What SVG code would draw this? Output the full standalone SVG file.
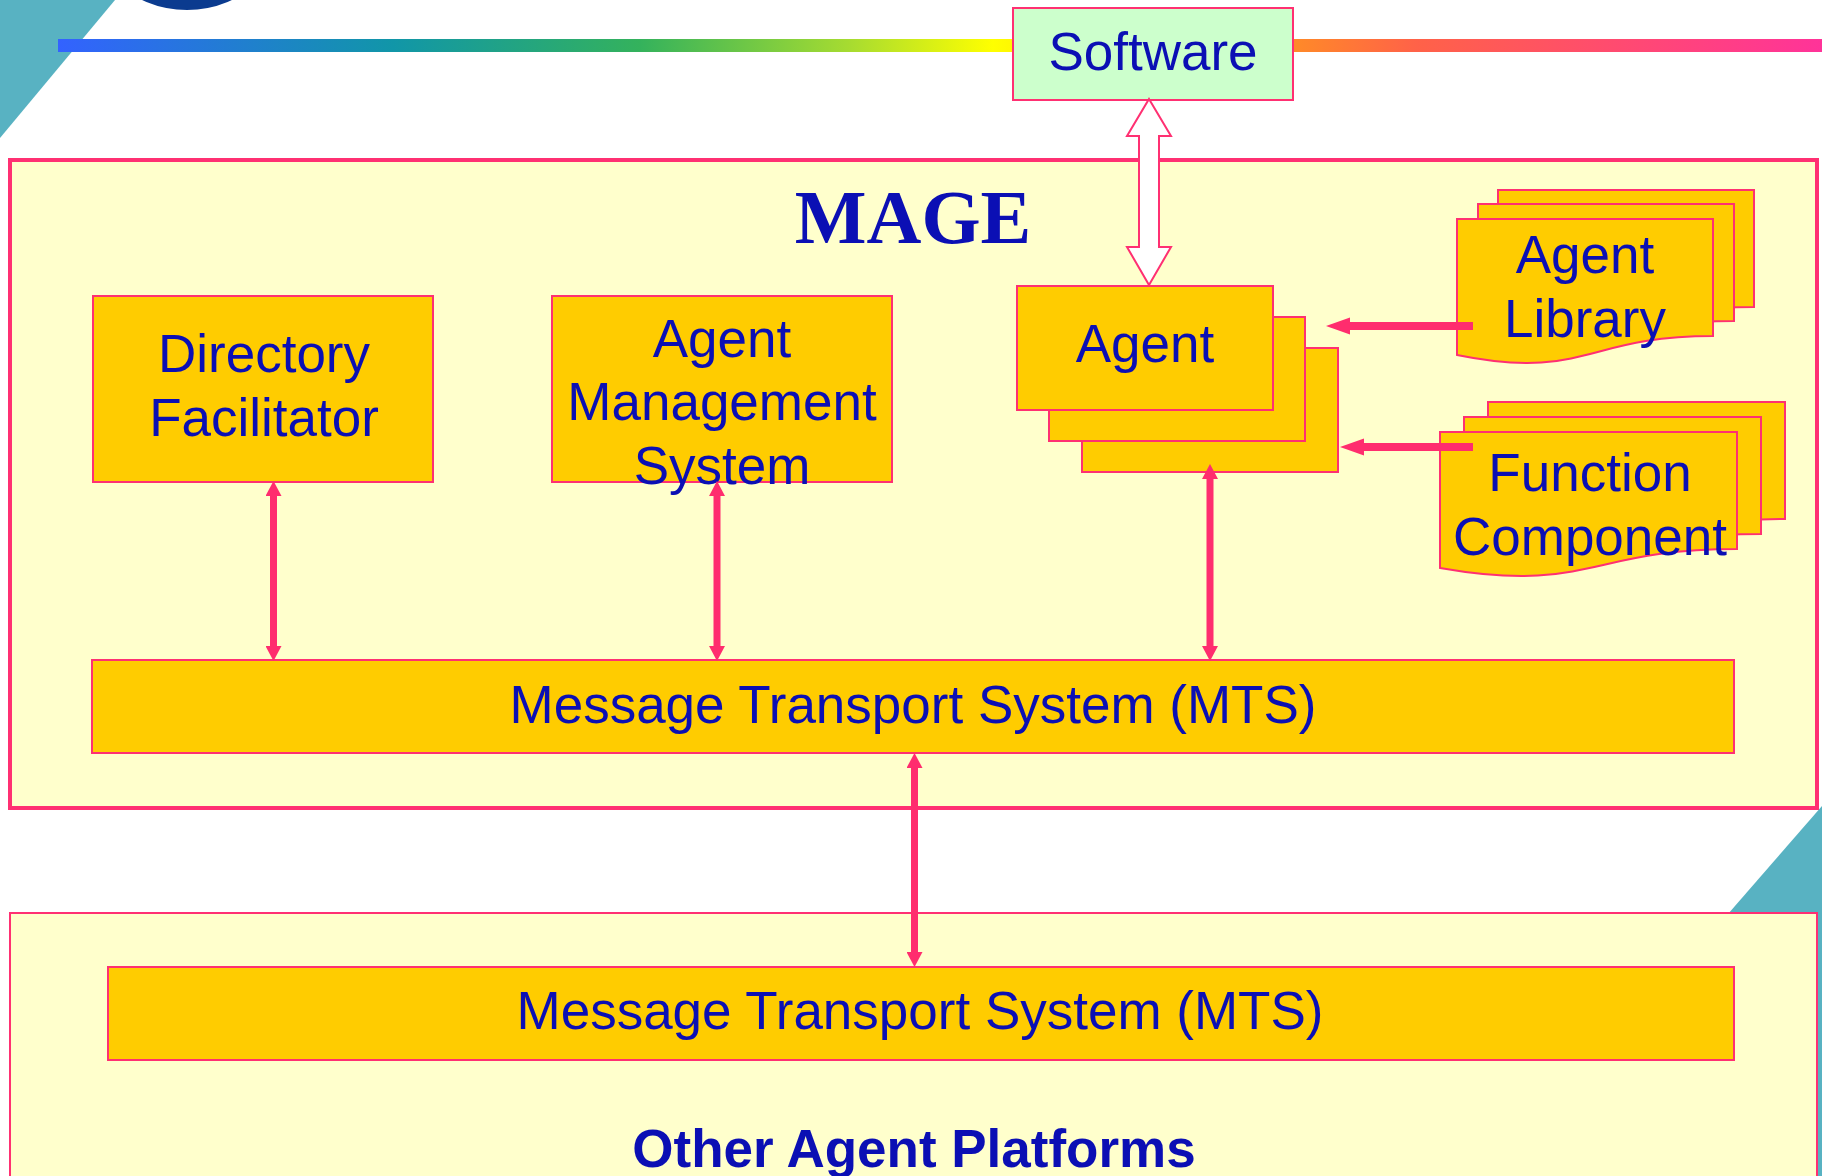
<svg xmlns="http://www.w3.org/2000/svg" width="1822" height="1176" viewBox="0 0 1822 1176">
  <style>
    .panel { fill: #ffffcc; stroke: #ff3072; }
    .box { fill: #ffcc00; stroke: #ff3072; stroke-width: 2; }
    .label { font-family: "Liberation Sans", Arial, sans-serif; font-size: 53px; fill: #0b0fb4; text-anchor: middle; }
    .title { font-family: "Liberation Serif", "Times New Roman", serif; font-weight: bold; font-size: 76px; fill: #0b0fb4; text-anchor: middle; }
    .bold { font-weight: bold; }
    .link { stroke: #ff2d6e; stroke-width: 7; fill: none; }
    .feed { stroke: #ff2d6e; stroke-width: 8; fill: none; }
  </style>
  <defs>
    <linearGradient id="band" gradientUnits="userSpaceOnUse" x1="58" y1="0" x2="1822" y2="0">
      <stop offset="0" stop-color="#3362ff"/>
      <stop offset="0.19" stop-color="#1196a8"/>
      <stop offset="0.33" stop-color="#34b25c"/>
      <stop offset="0.45" stop-color="#a8dc30"/>
      <stop offset="0.53" stop-color="#ffff00"/>
      <stop offset="0.70" stop-color="#ff8a28"/>
      <stop offset="0.77" stop-color="#ff6248"/>
      <stop offset="1" stop-color="#ff3399"/>
    </linearGradient>
    <marker id="headV" markerUnits="userSpaceOnUse" markerWidth="16" markerHeight="16" viewBox="0 -8 15 16" refX="0" refY="0" orient="auto-start-reverse">
      <path d="M0,-8 L15,0 L0,8 Z" fill="#ff2d6e"/>
    </marker>
    <marker id="headH" markerUnits="userSpaceOnUse" markerWidth="24" markerHeight="18" viewBox="0 -9 24 18" refX="0" refY="0" orient="auto">
      <path d="M0,-8.5 L24,0 L0,8.5 Z" fill="#ff2d6e"/>
    </marker>
    <path id="docLib" d="M0,0 H256 V117 C128,117 128,162 0,136 Z"/>
    <path id="docFn" d="M0,0 H297 V117 C148.5,117 148.5,162 0,136 Z"/>
  </defs>

  <!-- page decoration -->
  <rect width="1822" height="1176" fill="#ffffff"/>
  <polygon points="0,0 115,0 0,138" fill="#58b2c2"/>
  <polygon points="1822,806 1822,1176 1500,1176" fill="#58b2c2"/>
  <circle cx="187" cy="-96" r="106" fill="#0b3b8f"/>
  <rect x="58" y="39" width="1764" height="13" fill="url(#band)"/>

  <!-- platform panels -->
  <g id="mage-platform">
    <rect class="panel" x="10" y="160" width="1807" height="648" stroke-width="4"/>
    <text class="title" x="913" y="243">MAGE</text>
  </g>
  <g id="other-platforms">
    <rect class="panel" x="10" y="913" width="1807" height="290" stroke-width="2"/>
    <text class="label bold" x="914" y="1167">Other Agent Platforms</text>
  </g>

  <g id="software">
    <rect x="1013" y="8" width="280" height="92" fill="#ccffcc" stroke="#ff3072" stroke-width="2"/>
    <text class="label" x="1153" y="70">Software</text>
  </g>

  <!-- hollow two-way arrow between Software and Agent -->
  <g id="software-agent-link">
    <polygon points="1149,99 1171,136 1159,136 1159,247 1171,247 1149,285 1127,247 1139,247 1139,136 1127,136" fill="#ffffff" stroke="#ff3072" stroke-width="2" stroke-linejoin="miter"/>
  </g>

  <g id="directory-facilitator">
    <rect class="box" x="93" y="296" width="340" height="186"/>
    <text class="label" x="264" y="372">Directory</text>
    <text class="label" x="264" y="436">Facilitator</text>
  </g>

  <g id="agent-management-system">
    <rect class="box" x="552" y="296" width="340" height="186"/>
    <text class="label" x="722" y="357">Agent</text>
    <text class="label" x="722" y="420">Management</text>
    <text class="label" x="722" y="484">System</text>
  </g>

  <g id="agent">
    <rect class="box" x="1082" y="348" width="256" height="124"/>
    <rect class="box" x="1049" y="317" width="256" height="124"/>
    <rect class="box" x="1017" y="286" width="256" height="124"/>
    <text class="label" x="1145" y="362">Agent</text>
  </g>

  <g id="agent-library">
    <use href="#docLib" x="1498" y="190" class="box"/>
    <use href="#docLib" x="1478" y="204" class="box"/>
    <use href="#docLib" x="1457" y="219" class="box"/>
    <text class="label" x="1585" y="273">Agent</text>
    <text class="label" x="1585" y="337">Library</text>
  </g>

  <g id="function-component">
    <use href="#docFn" x="1488" y="402" class="box"/>
    <use href="#docFn" x="1464" y="417" class="box"/>
    <use href="#docFn" x="1440" y="432" class="box"/>
    <text class="label" x="1590" y="491">Function</text>
    <text class="label" x="1590" y="555">Component</text>
  </g>

  <g id="mts">
    <rect class="box" x="92" y="660" width="1642" height="93"/>
    <text class="label" x="913" y="723">Message Transport System (MTS)</text>
  </g>

  <g id="remote-mts">
    <rect class="box" x="108" y="967" width="1626" height="93"/>
    <text class="label" x="920" y="1029">Message Transport System (MTS)</text>
  </g>

  <!-- connectors -->
  <g id="connectors">
    <line class="link" x1="273.5" y1="496" x2="273.5" y2="646" marker-start="url(#headV)" marker-end="url(#headV)"/>
    <line class="link" x1="717" y1="496" x2="717" y2="646" marker-start="url(#headV)" marker-end="url(#headV)"/>
    <line class="link" x1="1210" y1="479" x2="1210" y2="646" marker-start="url(#headV)" marker-end="url(#headV)"/>
    <line class="link" x1="914.5" y1="768" x2="914.5" y2="952" marker-start="url(#headV)" marker-end="url(#headV)"/>
    <line class="feed" x1="1473" y1="326" x2="1350" y2="326" marker-end="url(#headH)"/>
    <line class="feed" x1="1473" y1="447" x2="1364" y2="447" marker-end="url(#headH)"/>
  </g>
</svg>
